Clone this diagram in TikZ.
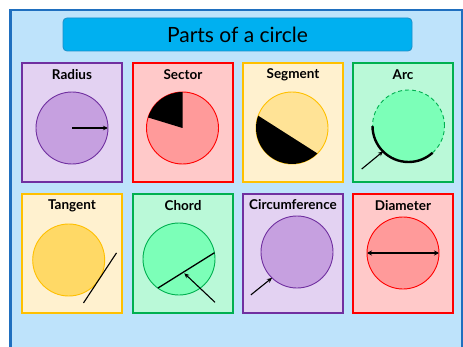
\documentclass[tikz,border=0pt]{standalone}
\usepackage{fontspec}
\setmainfont{Lato}
\usetikzlibrary{arrows.meta}

\definecolor{frameblue}{HTML}{1F6FBF}
\definecolor{backblue}{HTML}{BEE3FB}
\definecolor{titlecyan}{HTML}{00B0F0}
\definecolor{titleedge}{HTML}{1A8FC9}
\definecolor{purpleedge}{HTML}{7030A0}
\definecolor{purplecard}{HTML}{E3D2F2}
\definecolor{purpledisc}{HTML}{C6A0E0}
\definecolor{rededge}{HTML}{FF0000}
\definecolor{redcard}{HTML}{FFC9C9}
\definecolor{reddisc}{HTML}{FF9A9A}
\definecolor{orangeedge}{HTML}{FFC000}
\definecolor{orangecard}{HTML}{FFF1CF}
\definecolor{orangedisc}{HTML}{FFE396}
\definecolor{tangentdisc}{HTML}{FFD966}
\definecolor{greenedge}{HTML}{00B050}
\definecolor{greencard}{HTML}{BAF9D8}
\definecolor{greendisc}{HTML}{7CFFB8}

\begin{document}
\begin{tikzpicture}[x=1pt,y=1pt,
    card/.style={line width=2.6pt},
    disc/.style={circle,draw=#1,line width=0.9pt,minimum size=72pt,inner sep=0pt,outer sep=0pt},
    heading/.style={font=\bfseries\fontsize{13.5}{15}\selectfont,inner sep=0pt},
    pointer/.style={line width=1.1pt,-{Stealth[length=5pt,width=4.5pt]}}]
    \useasboundingbox (0,0) rectangle (463,346);

    % frame and title
    \filldraw[draw=frameblue,fill=backblue,line width=2.5pt] (10.5,-10) rectangle (462,335.8);
    \node[draw=titleedge,fill=titlecyan,rounded corners=4pt,line width=0.8pt,
          minimum width=349pt,minimum height=33pt,inner sep=0pt,
          font=\fontsize{21}{24}\selectfont] (title) at (237.5,311.5) {Parts of a circle};

    % cards, top row
    \filldraw[card,draw=purpleedge,fill=purplecard] (22,164) rectangle (122,283);
    \filldraw[card,draw=rededge,fill=redcard] (133,164) rectangle (233,283);
    \filldraw[card,draw=orangeedge,fill=orangecard] (243,164) rectangle (343,283);
    \filldraw[card,draw=greenedge,fill=greencard] (353,164) rectangle (453,283);

    % cards, bottom row
    \filldraw[card,draw=orangeedge,fill=orangecard] (22,33) rectangle (122,152);
    \filldraw[card,draw=greenedge,fill=greencard] (133,33) rectangle (233,152);
    \filldraw[card,draw=purpleedge,fill=purplecard] (243,33) rectangle (343,152);
    \filldraw[card,draw=rededge,fill=redcard] (353,33) rectangle (453,152);

    \node[heading] (radt) at (72,271) {Radius};
    \node[heading] (sect) at (183,271) {Sector};
    \node[heading] (segt) at (293,271) {Segment};
    \node[heading] (arct) at (403,271) {Arc};
    \node[heading] (tant) at (72,140) {Tangent};
    \node[heading] (chot) at (183,140) {Chord};
    \node[heading] (cirt) at (293,141) {Circumference};
    \node[heading] (diat) at (403,140) {Diameter};

    % radius
    \node[disc=purpleedge,fill=purpledisc] (rad) at (72,218) {};
    \draw[pointer] (rad.center) -- (rad.0);

    % sector
    \node[disc=rededge,fill=reddisc] (sec) at (182.5,218) {};
    \fill (sec.center) -- (sec.90) arc (90:163:36) -- cycle;

    % segment
    \node[disc=orangeedge,fill=orangedisc] (seg) at (292,218) {};
    \fill (seg.160) arc (160:315:36) -- cycle;

    % arc
    \node[disc=greenedge,fill=greendisc,dash pattern=on 4pt off 3pt] (arc) at (408.5,220) {};
    \draw[line width=2.4pt] (arc.180) arc (180:312:36);
    \coordinate (arcfrom) at ([shift={(222.6:63.6)}]arc.center);
    \draw[pointer] (arcfrom) -- (arc.225);

    % tangent
    \node[disc=orangeedge,fill=tangentdisc] (tan) at (68.7,86) {};
    \coordinate (tanlow) at ([shift={(236.6:28)}]tan.-33.4);
    \coordinate (tanhigh) at ([shift={(56.6:32)}]tan.-33.4);
    \draw[line width=1.1pt] (tanlow) -- (tanhigh);

    % chord
    \node[disc=greenedge,fill=greendisc] (cho) at (179,87) {};
    \draw[line width=1.3pt] (cho.234) -- (cho.10);
    \coordinate (chofrom) at ([shift={(36,-43.3)}]cho.center);
    \coordinate (choto) at ([shift={(5.3,-14.3)}]cho.center);
    \draw[pointer] (chofrom) -- (choto);

    % circumference
    \node[disc=purpleedge,fill=purpledisc] (cir) at (297,94) {};
    \coordinate (cirfrom) at ([shift={(222.9:63)}]cir.center);
    \draw[pointer] (cirfrom) -- (cir.226);

    % diameter
    \node[disc=rededge,fill=reddisc] (dia) at (403,93) {};
    \draw[line width=1.3pt,{Stealth[length=5pt,width=5pt]}-{Stealth[length=5pt,width=5pt]}] (dia.180) -- (dia.0);
\end{tikzpicture}
\end{document}
